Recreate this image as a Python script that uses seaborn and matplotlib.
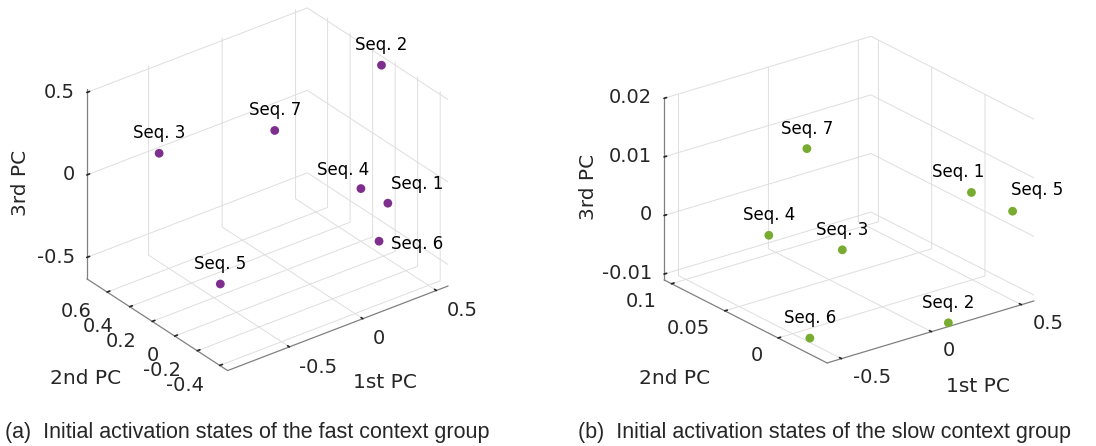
import matplotlib
matplotlib.use("Agg")
import matplotlib.pyplot as plt
import seaborn as sns
from matplotlib.transforms import offset_copy

# sequence names
seq_names = ["Seq. 1", "Seq. 2", "Seq. 3", "Seq. 4", "Seq. 5", "Seq. 6", "Seq. 7"]

# (a) fast context group, first three principal components
fast_pc1 = [0.40, 0.51, -0.62, 0.37, -0.74, 0.34, 0.09]
fast_pc2 = [-0.17, 0.03, 0.53, 0.03, -0.17, -0.17, 0.43]
fast_pc3 = [-0.20, 0.51, 0.14, -0.19, -0.30, -0.41, 0.08]

# (b) slow context group
slow_pc1 = [0.40, 0.10, -0.14, -0.43, 0.54, -0.51, -0.10]
slow_pc2 = [-0.016, -0.045, 0.014, 0.034, -0.031, -0.018, 0.054]
slow_pc3 = [0.0063, -0.0105, -0.0013, 0.0020, 0.0032, -0.0100, 0.0119]

# tick labels
fast_xticks = [-0.5, 0, 0.5]
fast_yticks = [-0.4, -0.2, 0, 0.2, 0.4, 0.6]
fast_zticks = [-0.5, 0, 0.5]
slow_xticks = [-0.5, 0, 0.5]
slow_yticks = [0, 0.05, 0.1]
slow_zticks = [-0.01, 0, 0.01, 0.02]

axis_names = ["1st PC", "2nd PC", "3rd PC"]
captions = ["(a)  Initial activation states of the fast context group",
            "(b)  Initial activation states of the slow context group"]

sns.set_theme(style="white")
plt.rcParams['font.family'] = ['DejaVu Sans']

W, H = 1096, 446
fig = plt.figure(figsize=(W / 100, H / 100), dpi=100)

# label offsets (pixels) and alignment per sequence
fast_offsets = {"Seq. 1": (3, 10, 'left'), "Seq. 4": (-18, 10, 'center'),
                "Seq. 6": (12, -12, 'left')}
slow_offsets = {"Seq. 1": (-13, 11, 'center'), "Seq. 5": (25, 12, 'center')}

# axis-label centres in pixels (x, y from top-left)
fast_label_pos = [(385, 383), (86, 379), (21, 183)]
slow_label_pos = [(978, 386), (675, 379), (589, 187)]


def style_axes(ax, elev):
    ax.set_proj_type('ortho')
    ax.view_init(elev=elev, azim=-127.5)
    for axis in (ax.xaxis, ax.yaxis, ax.zaxis):
        axis.set_pane_color((1, 1, 1, 0))
        axis.pane.set_edgecolor('#d9d9d9')
        axis.line.set_color('#808080')
        axis.line.set_linewidth(0.9)
        axis._axinfo['grid']['color'] = '#dedede'
        axis._axinfo['grid']['linewidth'] = 0.7
        axis._axinfo['tick']['color'] = '#808080'
        axis._axinfo['tick']['inward_factor'] = 0.0
        axis._axinfo['tick']['outward_factor'] = 0.15
    ax.tick_params(labelsize=14, colors='#262626', pad=3)
    ax.zaxis.set_tick_params(pad=-3)


def draw(ax, xs, ys, zs, color, lims, ticks, aspect, offsets, elev, label_pos):
    style_axes(ax, elev)
    ax.scatter(xs, ys, zs, s=40, color=color, depthshade=False, edgecolors='none')
    for name, x, y, z in zip(seq_names, xs, ys, zs):
        dx, dy, ha = offsets.get(name, (0, 11, 'center'))
        tr = offset_copy(ax.transData, fig=fig, x=dx, y=dy, units='dots')
        ax.text(x, y, z, name, transform=tr, ha=ha, va='bottom', fontsize=12,
                color='black')
    ax.set_xlim(*lims[0])
    ax.set_ylim(*lims[1])
    ax.set_zlim(*lims[2])
    ax.set_xticks(ticks[0])
    ax.set_yticks(ticks[1])
    ax.set_zticks(ticks[2])
    ax.set_xticklabels([f"{t:g}" for t in ticks[0]], ha='left', va='center')
    ax.set_yticklabels([f"{t:g}" for t in ticks[1]], ha='right', va='center')
    ax.set_zticklabels([f"{t:g}" for t in ticks[2]], ha='right', va='center')
    ax.set_box_aspect(aspect, zoom=1.0)
    for name, (px, py), rot in zip(axis_names, label_pos, (0, 0, 90)):
        fig.text(px / W, 1 - py / H, name, fontsize=14.5, color='#262626',
                 ha='center', va='center', rotation=rot)


ax1 = fig.add_axes([0.014, 0.107, 0.45, 0.92], projection='3d')
draw(ax1, fast_pc1, fast_pc2, fast_pc3, '#7e2f8e',
     [(-0.92, 0.58), (-0.47, 0.78), (-0.63, 0.52)],
     [fast_xticks, fast_yticks, fast_zticks], (274, 228, 216), fast_offsets, 30,
     fast_label_pos)

ax2 = fig.add_axes([0.5346, 0.08, 0.47, 0.92], projection='3d')
draw(ax2, slow_pc1, slow_pc2, slow_pc3, '#77ac30',
     [(-0.58, 0.57), (-0.046, 0.107), (-0.011, 0.02)],
     [slow_xticks, slow_yticks, slow_zticks], (259, 266, 196), slow_offsets, 23,
     slow_label_pos)

cap_font = ['Liberation Sans', 'DejaVu Sans']
fig.text(0.005, 0.031, captions[0], fontsize=15.5, family=cap_font, va='center')
fig.text(0.527, 0.031, captions[1], fontsize=15.5, family=cap_font, va='center')

fig.savefig("out.png", dpi=100)
